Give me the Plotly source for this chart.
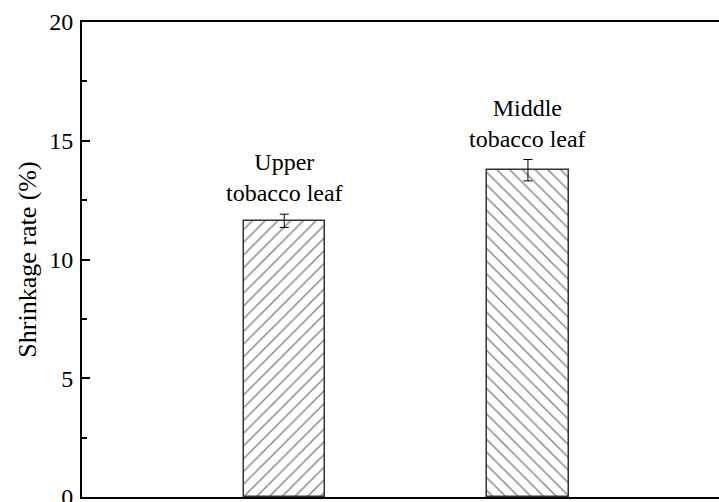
import plotly.graph_objects as go

categories = ["Upper tobacco leaf", "Middle tobacco leaf"]
labels = ["Upper<br>tobacco leaf", "Middle<br>tobacco leaf"]
values = [11.63, 13.76]
errors = [0.28, 0.45]
patterns = ["/", "\\"]
y_ticks = [0, 5, 10, 15, 20]

FONT = "Liberation Serif, Times New Roman, serif"

fig = go.Figure()
fig.add_trace(go.Bar(
    x=categories,
    y=values,
    width=0.334,
    marker=dict(
        color="white",
        line=dict(color="#333333", width=1.5),
        pattern=dict(shape=patterns, fgcolor="black", bgcolor="white",
                     size=9, solidity=0.15),
    ),
    error_y=dict(type="data", array=errors, visible=True,
                 color="black", thickness=1, width=4.5),
    showlegend=False,
    hoverinfo="skip",
))

for c, lab, v, e in zip(categories, labels, values, errors):
    fig.add_annotation(x=c, y=v + e, text=lab, showarrow=False,
                       yanchor="bottom", yshift=6,
                       font=dict(family=FONT, size=24, color="black"))

fig.update_layout(
    width=719, height=502,
    margin=dict(l=82, r=0, t=22, b=5),
    paper_bgcolor="white", plot_bgcolor="white",
    font=dict(family=FONT, size=24, color="black"),
    bargap=0,
)
fig.update_xaxes(
    type="category",
    range=[-0.830, 1.784],
    showticklabels=False, ticks="",
    showline=True, linecolor="black", linewidth=2, mirror=True,
    showgrid=False, zeroline=False,
    automargin=False,
)
fig.update_yaxes(
    range=[0, 20],
    tickvals=y_ticks,
    ticks="inside", ticklen=8, tickwidth=1.5, tickcolor="black",
    minor=dict(dtick=2.5, ticks="inside", ticklen=5, tickwidth=1.5,
               tickcolor="black", showgrid=False),
    showline=True, linecolor="black", linewidth=2, mirror=False,
    showgrid=False, zeroline=False,
    automargin=False,
    ticklabelstandoff=2,
    ticklabeloverflow="allow",
    title=dict(text="Shrinkage rate (%)", standoff=5,
               font=dict(family=FONT, size=26)),
    tickfont=dict(family=FONT, size=24),
)

fig.write_html(
    "out.html",
    config={"displayModeBar": False},
    post_script="document.body.style.margin='0';document.body.style.overflow='hidden';",
)
